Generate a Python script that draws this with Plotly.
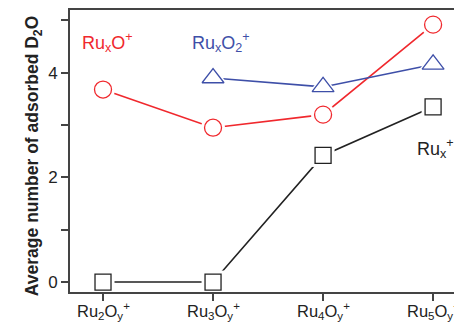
import plotly.graph_objects as go

categories = ["Ru2", "Ru3", "Ru4", "Ru5"]
tick_labels = ["Ru<sub>2</sub>O<sub>y</sub><sup>+</sup>", "Ru<sub>3</sub>O<sub>y</sub><sup>+</sup>",
               "Ru<sub>4</sub>O<sub>y</sub><sup>+</sup>", "Ru<sub>5</sub>O<sub>y</sub><sup>+</sup>"]
x_idx = [0, 1, 2, 3]

rux_o = [3.68, 2.95, 3.20, 4.92]
rux_o2 = [None, 3.90, 3.73, 4.16]
rux = [0.0, 0.0, 2.42, 3.35]

RED = "#f0282d"
BLUE = "#3e4fa8"
BLACK = "#222222"
AX = "#444444"

fig = go.Figure()
series = [
    (rux_o, RED, "circle", 17),
    (rux_o2, BLUE, "triangle-up", 19),
    (rux, BLACK, "square", 16),
]
for vals, col, sym, sz in series:
    xs = [x for x, v in zip(x_idx, vals) if v is not None]
    ys = [v for v in vals if v is not None]
    fig.add_trace(go.Scatter(x=xs, y=ys, mode="lines", line=dict(color=col, width=1.6),
                             showlegend=False, hoverinfo="skip"))
for vals, col, sym, sz in series:
    xs = [x for x, v in zip(x_idx, vals) if v is not None]
    ys = [v for v in vals if v is not None]
    fig.add_trace(go.Scatter(x=xs, y=ys, mode="markers",
                             marker=dict(symbol=sym, size=sz + 7, color="white", line=dict(width=0)),
                             showlegend=False, hoverinfo="skip"))
    fig.add_trace(go.Scatter(x=xs, y=ys, mode="markers",
                             marker=dict(symbol=sym + "-open", size=sz, color=col,
                                         line=dict(width=1.3, color=col)),
                             showlegend=False))

fig.add_annotation(x=-0.21, y=4.57, xref="x", yref="y", text="Ru<sub>x</sub>O<sup>+</sup>",
                   showarrow=False, xanchor="left", font=dict(color=RED, size=18))
fig.add_annotation(x=0.79, y=4.57, xref="x", yref="y", text="Ru<sub>x</sub>O<sub>2</sub><sup>+</sup>",
                   showarrow=False, xanchor="left", font=dict(color=BLUE, size=18))
fig.add_annotation(x=2.84, y=2.55, xref="x", yref="y", text="Ru<sub>x</sub><sup>+</sup>",
                   showarrow=False, xanchor="left", font=dict(color=BLACK, size=18))

for xi, lab in zip(x_idx, tick_labels):
    fig.add_annotation(x=xi, y=0, xref="x", yref="paper", yanchor="top", yshift=-6,
                       text=lab, showarrow=False, font=dict(size=16.5, color="#222222"))

fig.add_annotation(x=0, y=0.48, xref="paper", yref="paper", xshift=-50, textangle=-90,
                   text="<b>Average number of adsorbed D<sub>2</sub>O</b>", showarrow=False,
                   font=dict(size=17.5, color="#222222"))

fig.update_layout(
    width=454, height=324,
    margin=dict(l=70, r=0, t=10, b=32, autoexpand=False),
    paper_bgcolor="white", plot_bgcolor="white",
    font=dict(family="Liberation Sans, Arial, sans-serif", color="#333333"),
    xaxis=dict(range=[-0.3, 3.19], tickmode="array", tickvals=x_idx, ticktext=["", "", "", ""],
               showgrid=False, zeroline=False, showline=True, linecolor=AX, linewidth=2,
               mirror=True, ticks="outside", ticklen=7, tickwidth=1.5, tickcolor=AX),
    yaxis=dict(range=[-0.19, 5.2], tickvals=[0, 2, 4], showgrid=False, zeroline=False,
               showline=True, linecolor=AX, linewidth=2, ticks="outside", ticklen=7,
               tickwidth=1.5, tickcolor=AX, tickfont=dict(size=17, color="#222222"),
               minor=dict(tickvals=[1, 3, 5], ticks="outside", ticklen=7, tickwidth=1.5,
                          tickcolor=AX)),
)

fig.write_html("out.html", config={"displayModeBar": False},
               post_script="document.body.style.margin='0';document.body.style.overflow='hidden';")
